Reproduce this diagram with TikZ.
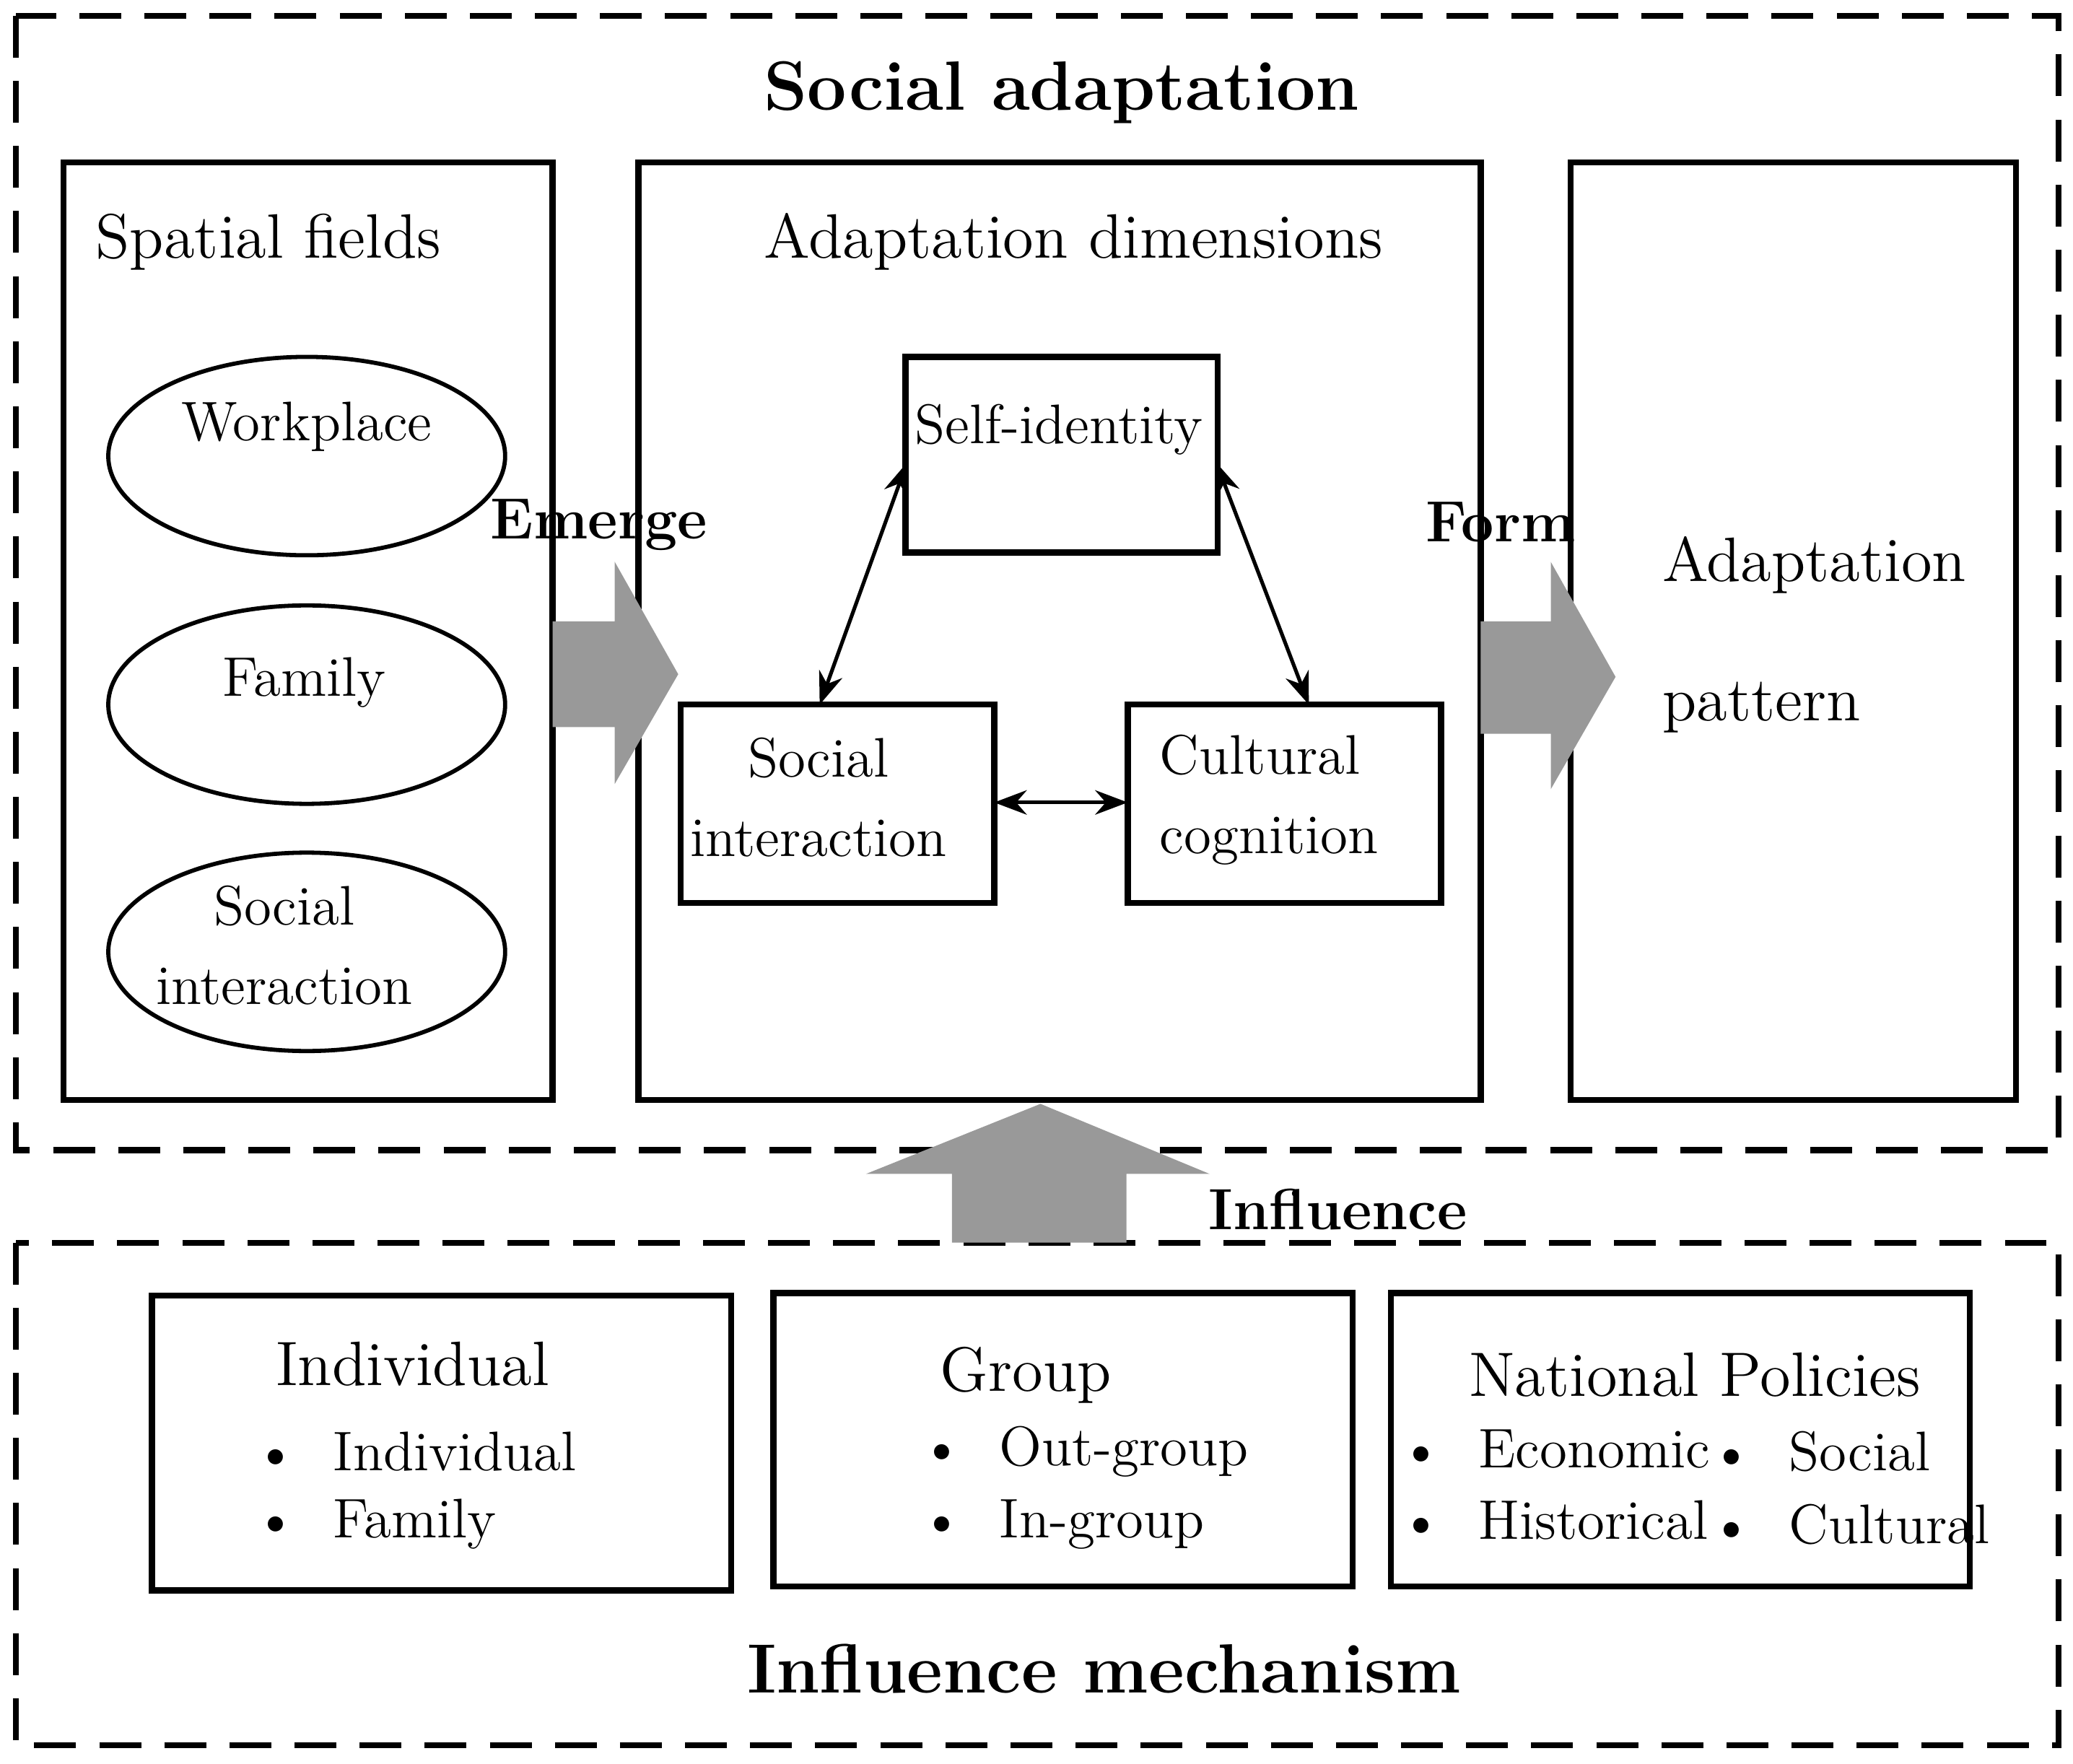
\documentclass[tikz,border=0pt]{standalone}
\usetikzlibrary{positioning,arrows.meta,shapes.geometric}
\tikzset{
  box/.style={draw,line width=1.3pt},
  dashbox/.style={draw,line width=1.3pt,dash pattern=on 9pt off 5pt},
  txt/.style={font=\fontsize{13.5}{16}\selectfont},
  small/.style={font=\fontsize{12}{14}\selectfont},
  ttl/.style={font=\fontsize{15}{18}\selectfont\bfseries},
  lbl/.style={font=\fontsize{12.5}{15}\selectfont\bfseries},
  dbl/.style={{Stealth[length=7pt]}-{Stealth[length=7pt]},line width=0.8pt},
  fat/.style={fill=black!40,draw=none},
  ell/.style={draw,line width=0.9pt,ellipse,minimum width=3cm,minimum height=1.5cm,inner sep=0pt}
}
\newcommand{\bul}{\textbullet\ \ }
\begin{document}
\begin{tikzpicture}[x=0.01cm,y=-0.01cm]
\useasboundingbox (0,0) rectangle (1568,1334);
% outer frames
\draw[dashbox] (12,12) rectangle (1557,870);
\draw[dashbox] (12,940) rectangle (1557,1320);
\node[ttl] (title) at (803,70) {Social adaptation};
\node[ttl] (mech) at (835,1262) {Influence mechanism};
% spatial fields
\draw[box] (48,123) rectangle (418,832);
\node[txt] (sf) at (203,183) {Spatial fields};
\node[ell] (work) at (232,345) {};
\node[small] at (232,323) {Workplace};
\node[ell] (fam) at (232,533) {};
\node[small] at (230,516) {Family};
\node[ell] (soc) at (232,720) {};
\node[small,align=center] at (215,715) {Social\\[3pt]interaction};
% adaptation dimensions
\draw[box] (483,123) rectangle (1120,832);
\node[txt] (ad) at (812,183) {Adaptation dimensions};
\draw[box] (685,270) rectangle (921,418);
\node[small] (self) at (801,325) {Self-identity};
\draw[box] (515,533) rectangle (752,683);
\node[small,align=center] (si) at (619,603) {Social\\[3pt]interaction};
\draw[box] (853,533) rectangle (1090,683);
\node[small,align=left] (cc) at (960,605) {Cultural\\[3pt]cognition};
\coordinate (s1) at (686,350);
\coordinate (s2) at (920,350);
\coordinate (i1) at (620,533);
\coordinate (c1) at (990,533);
\coordinate (i2) at (752,607);
\coordinate (c2) at (853,607);
\draw[dbl] (s1) -- (i1);
\draw[dbl] (s2) -- (c1);
\draw[dbl] (i2) -- (c2);
% adaptation pattern
\draw[box] (1188,123) rectangle (1525,832);
\node[txt,align=left,anchor=west] (ap) at (1245,480) {Adaptation\\[14pt]pattern};
% fat arrows
\fill[fat] (418,470) -- (465,470) -- (465,425) -- (513,510) -- (465,593) -- (465,550) -- (418,550) -- cycle;
\node[lbl] (emerge) at (453,397) {Emerge};
\fill[fat] (1120,470) -- (1173,470) -- (1173,425) -- (1222,512) -- (1173,597) -- (1173,555) -- (1120,555) -- cycle;
\node[lbl] (form) at (1135,395) {Form};
\fill[fat] (720,940) -- (720,888) -- (655,888) -- (787,835) -- (915,888) -- (852,888) -- (852,940) -- cycle;
\node[lbl] (infl) at (1012,915) {Influence};
% influence boxes
\draw[box] (115,980) rectangle (553,1203);
\node[txt] (ind) at (312,1032) {Individual};
\node[small,anchor=west] at (180,1098) {\bul Individual};
\node[small,anchor=west] at (180,1153) {\bul Family};
\draw[box] (585,978) rectangle (1023,1200);
\node[txt] (grp) at (776,1040) {Group};
\node[small,anchor=west] at (684,1098) {\bul Out-group};
\node[small,anchor=west] at (684,1153) {\bul In-group};
\draw[box] (1052,978) rectangle (1490,1200);
\node[txt] (nat) at (1282,1040) {National Policies};
\node[small,anchor=west,inner sep=0pt] at (1058,1096) {\bul Economic};
\node[small,anchor=west,inner sep=0pt] at (1058,1150) {\bul Historical};
\node[small,anchor=west,inner sep=0pt] at (1293,1098) {\bul Social};
\node[small,anchor=west,inner sep=0pt] at (1293,1153) {\bul Cultural};
\end{tikzpicture}
\end{document}
